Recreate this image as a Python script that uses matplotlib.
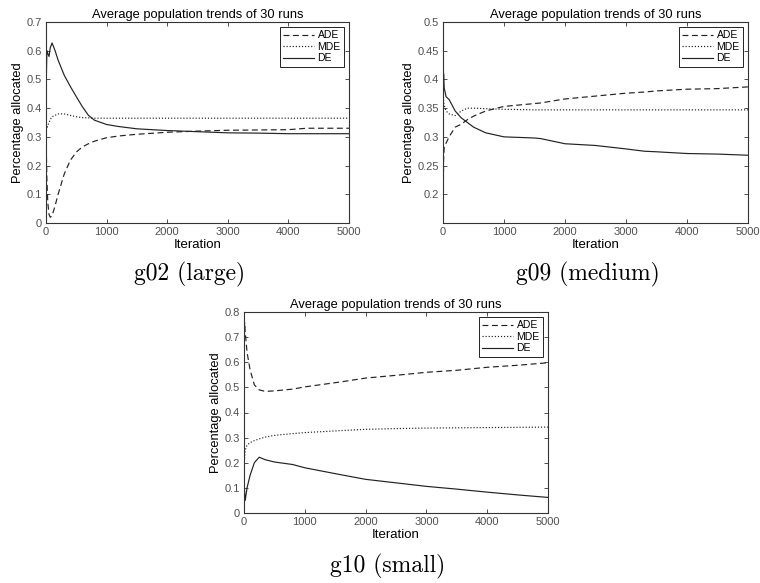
import matplotlib
matplotlib.use("Agg")
import matplotlib.pyplot as plt

# ---- data (iteration vs. share of population) ----
series_names = ["ADE", "MDE", "DE"]
title_text = "Average population trends of 30 runs"

g02_x = [0, 5, 15, 30, 50, 70, 100, 150, 200, 300, 400, 500, 600, 700, 800,
         1000, 1200, 1500, 2000, 2500, 3000, 3500, 4000, 4300, 4500, 5000]
g02_ade = [0.33, 0.25, 0.15, 0.07, 0.03, 0.02, 0.025, 0.06, 0.10, 0.17, 0.218, 0.247, 0.265, 0.276, 0.285,
           0.297, 0.303, 0.309, 0.316, 0.320, 0.323, 0.324, 0.325, 0.330, 0.330, 0.330]
g02_mde = [0.37, 0.34, 0.33, 0.34, 0.35, 0.36, 0.37, 0.375, 0.38, 0.38, 0.375, 0.37, 0.367, 0.366, 0.365,
           0.365, 0.365, 0.365, 0.365, 0.365, 0.365, 0.365, 0.365, 0.365, 0.365, 0.365]
g02_de = [0.33, 0.50, 0.60, 0.59, 0.58, 0.61, 0.627, 0.60, 0.567, 0.515, 0.476, 0.44, 0.405, 0.375, 0.358,
          0.343, 0.336, 0.328, 0.322, 0.318, 0.314, 0.313, 0.311, 0.311, 0.311, 0.311]

g09_x = [0, 5, 10, 20, 50, 100, 200, 300, 400, 500, 700, 1000, 1500, 1600,
         2000, 2500, 3000, 3300, 3500, 4000, 4500, 5000]
g09_ade = [0.19, 0.20, 0.26, 0.283, 0.289, 0.30, 0.317, 0.322, 0.33, 0.336, 0.345, 0.353, 0.358, 0.359,
           0.366, 0.371, 0.376, 0.378, 0.380, 0.383, 0.384, 0.387]
g09_mde = [0.45, 0.38, 0.36, 0.355, 0.345, 0.34, 0.337, 0.345, 0.35, 0.35, 0.349, 0.348, 0.347, 0.347,
           0.347, 0.347, 0.347, 0.347, 0.347, 0.347, 0.347, 0.347]
g09_de = [0.35, 0.39, 0.41, 0.385, 0.37, 0.365, 0.345, 0.333, 0.325, 0.317, 0.307, 0.30, 0.298, 0.297,
          0.288, 0.285, 0.279, 0.275, 0.274, 0.271, 0.270, 0.268]

g10_x = [0, 10, 20, 50, 100, 170, 250, 350, 500, 800, 1000, 1300, 1600, 2000,
         2500, 3000, 3500, 4000, 4500, 5000]
g10_ade = [0.55, 0.76, 0.72, 0.64, 0.57, 0.51, 0.49, 0.484, 0.486, 0.493, 0.502, 0.512, 0.522, 0.537,
           0.548, 0.56, 0.568, 0.58, 0.588, 0.598]
g10_mde = [0.18, 0.22, 0.25, 0.27, 0.28, 0.288, 0.295, 0.302, 0.309, 0.316, 0.32, 0.324, 0.328, 0.333,
           0.336, 0.338, 0.339, 0.34, 0.341, 0.342]
g10_de = [0.15, 0.08, 0.05, 0.10, 0.15, 0.20, 0.222, 0.212, 0.203, 0.193, 0.18, 0.166, 0.152, 0.134,
          0.12, 0.106, 0.095, 0.083, 0.072, 0.062]

x_ticks = [0, 1000, 2000, 3000, 4000, 5000]
g02_yticks = [0, 0.1, 0.2, 0.3, 0.4, 0.5, 0.6, 0.7]
g09_yticks = [0.2, 0.25, 0.3, 0.35, 0.4, 0.45, 0.5]
g10_yticks = [0, 0.1, 0.2, 0.3, 0.4, 0.5, 0.6, 0.7, 0.8]

SANS = ["Liberation Sans", "DejaVu Sans"]
line_styles = [(0, (5, 3)), (0, (1, 1.6)), "-"]
line_color = "#222222"


def draw_panel(ax, x, ys, yticks, ylim, caption, cap_xy):
    for y, name, ls in zip(ys, series_names, line_styles):
        ax.plot(x, y, linestyle=ls, color=line_color, linewidth=0.85, label=name)
    ax.set_xlim(0, 5000)
    ax.set_ylim(*ylim)
    ax.set_xticks(x_ticks)
    ax.set_yticks(yticks)
    ax.set_yticklabels([("%g" % t) for t in yticks])
    ax.tick_params(direction="in", top=True, right=True, length=3, width=0.6,
                   labelsize=8, labelcolor="#505050", color="#333333", pad=3)
    for lab in ax.get_xticklabels() + ax.get_yticklabels():
        lab.set_family(SANS)
    for sp in ax.spines.values():
        sp.set_linewidth(0.8)
        sp.set_color("#333333")
    ax.set_title(title_text, family=SANS, fontsize=9.3, pad=3)
    ax.set_xlabel("Iteration", family=SANS, fontsize=9.5, labelpad=1)
    ax.set_ylabel("Percentage allocated", family=SANS, fontsize=9.3, labelpad=2)
    leg = ax.legend(loc="upper right", prop={"family": SANS, "size": 7.5},
                    fancybox=False, framealpha=1, edgecolor="#222222",
                    handlelength=3.0, handletextpad=0.3, labelspacing=0.15,
                    borderpad=0.3, borderaxespad=0.5)
    leg.get_frame().set_linewidth(0.7)
    ax.figure.text(cap_xy[0], cap_xy[1], caption, family="cmr10", fontsize=17,
                   ha="center", va="center")


fig = plt.figure(figsize=(7.6, 5.83), dpi=100)
W, H = 760.0, 583.0

ax1 = fig.add_axes([46 / W, (H - 223) / H, 303 / W, 201 / H])
ax2 = fig.add_axes([443 / W, (H - 223) / H, 305 / W, 201 / H])
ax3 = fig.add_axes([244 / W, (H - 513) / H, 304 / W, 201 / H])

draw_panel(ax1, g02_x, [g02_ade, g02_mde, g02_de], g02_yticks, (0, 0.7),
           "g02 (large)", (190 / W, 1 - 274 / H))
draw_panel(ax2, g09_x, [g09_ade, g09_mde, g09_de], g09_yticks, (0.15, 0.5),
           "g09 (medium)", (588 / W, 1 - 274 / H))
draw_panel(ax3, g10_x, [g10_ade, g10_mde, g10_de], g10_yticks, (0, 0.8),
           "g10 (small)", (388 / W, 1 - 566 / H))

fig.savefig("out.png", dpi=100, facecolor="white")
